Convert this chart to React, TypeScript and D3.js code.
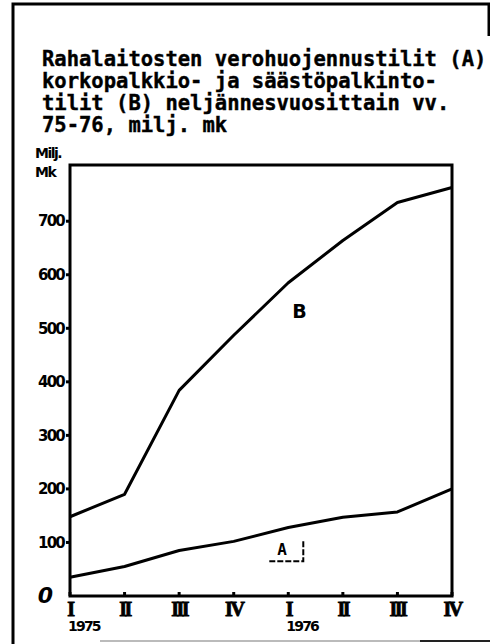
import React from 'react';
import * as d3 from 'd3';

const WIDTH = 490;
const HEIGHT = 644;

// neljännesvuodet 1975-1976
const quarters = ['I', 'II', 'III', 'IV', 'I', 'II', 'III', 'IV'];
const years = ['1975', '1976'];
// A: verohuojennustilit, B: korkopalkkio- ja säästöpalkintotilit (milj. mk)
const seriesA = [35, 55, 85, 102, 128, 147, 157, 200];
const seriesB = [148, 190, 384, 487, 585, 664, 735, 763];
const yTicks = [100, 200, 300, 400, 500, 600, 700];

const titleLines = [
  'Rahalaitosten verohuojennustilit (A)',
  'korkopalkkio- ja säästöpalkinto-',
  'tilit (B) neljännesvuosittain vv.',
  '75-76, milj. mk',
];

const PLOT = { left: 70, right: 452, top: 165, bottom: 596 };
const HAND = '"DejaVu Sans", sans-serif';

function App() {
  const xScale = d3
    .scalePoint<number>()
    .domain(d3.range(quarters.length))
    .range([PLOT.left, PLOT.right]);

  const yScale = d3.scaleLinear().domain([0, 805]).range([PLOT.bottom, PLOT.top]);

  const line = d3
    .line<number>()
    .x((_, i) => xScale(i) as number)
    .y((d) => yScale(d));

  return (
    <svg
      width={WIDTH}
      height={HEIGHT}
      viewBox={`0 0 ${WIDTH} ${HEIGHT}`}
      style={{ position: 'absolute', left: 0, top: 0, background: '#fff' }}
    >
      {/* outer frame of the clipping */}
      <path d={`M 13 ${HEIGHT} V 4 H 489 V 36`} fill="none" stroke="#000" strokeWidth={3} />
      <line x1={100} x2={WIDTH} y1={641} y2={641} stroke="#bbb" strokeWidth={2} />
      <line x1={420} x2={WIDTH} y1={641} y2={641} stroke="#222" strokeWidth={2} />

      {/* title */}
      <g
        fontFamily='"DejaVu Sans Mono", monospace'
        fontWeight="bold"
        fontSize={20.5}
        fill="#000"
        stroke="#000"
        strokeWidth={0.4}
      >
        {titleLines.map((t, i) => (
          <text key={`t${i}`} x={42} y={66 + i * 22} style={{ whiteSpace: 'pre' }}>
            {t}
          </text>
        ))}
      </g>

      {/* unit */}
      <g fontFamily={HAND} fontWeight="bold" fill="#000" fontSize={14}>
        <text x={35} y={158} letterSpacing={-1.5}>
          Milj.
        </text>
        <text x={35} y={177} letterSpacing={-1.5}>
          Mk
        </text>
      </g>

      {/* plot frame */}
      <rect
        x={PLOT.left}
        y={PLOT.top}
        width={PLOT.right - PLOT.left}
        height={PLOT.bottom - PLOT.top}
        fill="none"
        stroke="#000"
        strokeWidth={3}
      />

      {/* y axis */}
      <g fontFamily={HAND} fontWeight="bold" fontSize={15} fill="#000">
        {yTicks.map((v) => (
          <g key={`y${v}`}>
            <line x1={PLOT.left - 4} x2={PLOT.left} y1={yScale(v)} y2={yScale(v)} stroke="#000" strokeWidth={3} />
            <text x={PLOT.left - 6} y={yScale(v)} dy="0.35em" textAnchor="end" letterSpacing={-1.8}>
              {v}
            </text>
          </g>
        ))}
        <text x={53} y={yScale(0)} dy="0.3em" textAnchor="end" fontSize={22} fontStyle="italic">
          0
        </text>
      </g>

      {/* x axis */}
      <g fontFamily='"Liberation Serif", serif' fontWeight="bold" fontSize={20} fill="#000" stroke="#000" strokeWidth={0.8}>
        {quarters.map((q, i) => (
          <g key={`x${i}`}>
            <line
              x1={xScale(i)}
              x2={xScale(i)}
              y1={PLOT.bottom}
              y2={PLOT.bottom - 4}
              stroke="#000"
              strokeWidth={3}
            />
            <text x={xScale(i)} y={PLOT.bottom + 20} textAnchor="middle" letterSpacing={-2.5}>
              {q}
            </text>
          </g>
        ))}
      </g>
      <g fontFamily={HAND} fontWeight="bold" fontSize={14} fill="#000">
        {years.map((y, i) => (
          <text key={y} x={(xScale(i * 4) as number) - 2} y={PLOT.bottom + 35} letterSpacing={-1.8}>
            {y}
          </text>
        ))}
      </g>

      {/* series */}
      <path d={line(seriesB) ?? ''} fill="none" stroke="#000" strokeWidth={3} strokeLinejoin="round" />
      <path d={line(seriesA) ?? ''} fill="none" stroke="#000" strokeWidth={3} strokeLinejoin="round" />

      {/* series labels */}
      <text
        x={(xScale(4) as number) + 4}
        y={yScale(520)}
        fontFamily={HAND}
        fontWeight="bold"
        fontSize={19}
        fill="#000"
      >
        B
      </text>
      <g>
        <text
          x={(xScale(4) as number) - 11}
          y={yScale(77)}
          fontFamily='"DejaVu Sans Mono", monospace'
          fontWeight="bold"
          fontSize={16}
          fill="#000"
        >
          A
        </text>
        <path
          d={`M ${(xScale(4) as number) - 19} ${yScale(65)} H ${(xScale(4) as number) + 15} V ${yScale(104)}`}
          fill="none"
          stroke="#000"
          strokeWidth={2}
          strokeDasharray="6 2"
        />
      </g>
    </svg>
  );
}

export default App;
